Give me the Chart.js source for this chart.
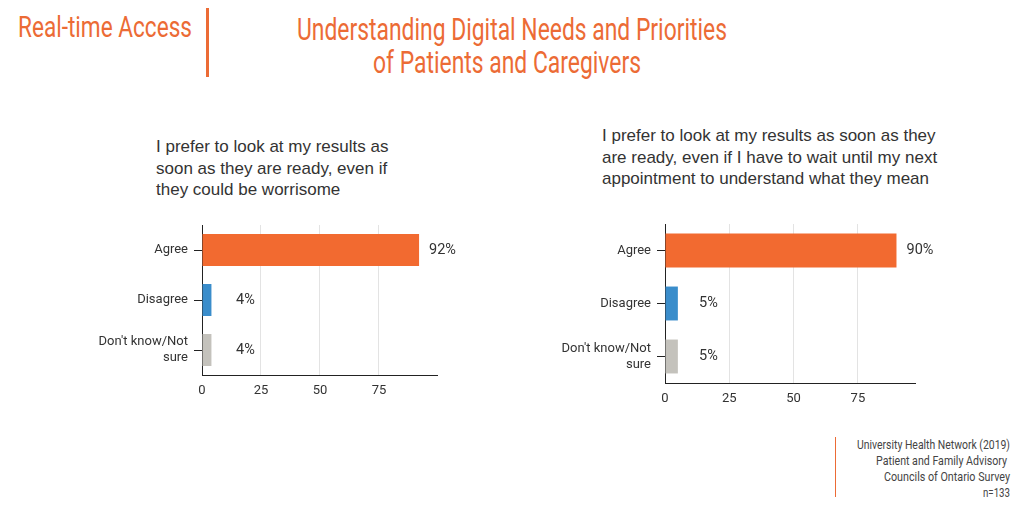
<!DOCTYPE html>
<html>
<head>
<meta charset="utf-8">
<script src="https://cdn.jsdelivr.net/npm/chart.js@4/dist/chart.umd.min.js"></script>
<style>
  body { margin: 0; width: 1024px; height: 512px; background: #fff; position: relative; overflow: hidden; }
  .cond { font-family: Roboto, sans-serif; white-space: nowrap; position: absolute; }
  .fit { display: inline-block; transform-origin: 0 0; }
  #section { left: 18px; top: 9px; font-size: 29px; line-height: 36px; color: #EC6B35; }
  #bar { position: absolute; left: 206px; top: 8px; width: 3px; height: 69px; background: #EC6B35; }
  #t1 { top: 11px; font-size: 31px; line-height: 38px; color: #EC6B35; }
  #t2 { top: 44px; font-size: 31px; line-height: 38px; color: #EC6B35; }
  .sub { position: absolute; font-family: 'Liberation Sans', Arial, sans-serif; font-size: 17px; line-height: 21.5px; color: #333; }
  #subL { left: 156px; top: 136px; }
  #subR { left: 602px; top: 125px; }
  #srcline { position: absolute; left: 835px; top: 437px; width: 1px; height: 60px; background: #EC6B35; }
  .src { font-size: 13px; line-height: 16px; color: #444; }
  canvas { position: absolute; }
</style>
</head>
<body>
<div id="section" class="cond"><span class="fit" data-w="174">Real-time Access</span></div>
<div id="bar"></div>
<div id="t1" class="cond" data-cx="512"><span class="fit" data-w="430">Understanding Digital Needs and Priorities</span></div>
<div id="t2" class="cond" data-cx="507"><span class="fit" data-w="268">of Patients and Caregivers</span></div>
<div id="subL" class="sub">I prefer to look at my results as<br>soon as they are ready, even if<br>they could be worrisome</div>
<div id="subR" class="sub">I prefer to look at my results as soon as they<br>are ready, even if I have to wait until my next<br>appointment to understand what they mean</div>
<div id="srcline"></div>
<div class="cond src" style="top:437px" data-rx="1010"><span class="fit" data-w="153">University Health Network (2019)</span></div>
<div class="cond src" style="top:453px" data-rx="1007"><span class="fit" data-w="131">Patient and Family Advisory</span></div>
<div class="cond src" style="top:469px" data-rx="1010"><span class="fit" data-w="126">Councils of Ontario Survey</span></div>
<div class="cond src" style="top:485px" data-rx="1010"><span class="fit" data-w="27">n=133</span></div>
<div style="position:absolute;left:90px;top:225px;width:380px;height:185px"><canvas id="left"></canvas></div>
<div style="position:absolute;left:550px;top:224px;width:400px;height:194px"><canvas id="right"></canvas></div>
<script>
// squeeze the header/footer text to the condensed widths of the original
document.querySelectorAll('.fit').forEach(span => {
  const natural = span.getBoundingClientRect().width;
  const target = +span.dataset.w;
  span.style.transform = 'scaleX(' + (target / natural) + ')';
  const box = span.parentElement;
  if (box.dataset.cx) box.style.left = (+box.dataset.cx - target / 2) + 'px';
  if (box.dataset.rx) box.style.left = (+box.dataset.rx - target) + 'px';
});

const categories = ['Agree', 'Disagree', ["Don't know/Not", 'sure']];
const leftValues = [92, 4, 4];
const rightValues = [90, 5, 5];
const xTicks = [0, 25, 50, 75];
const barColors = ['#F26A30', '#3A8DCB', '#C4C2BC'];

const valueLabels = {
  id: 'valueLabels',
  afterDatasetsDraw(chart) {
    const ctx = chart.ctx;
    const meta = chart.getDatasetMeta(0);
    const base = chart.scales.x.getPixelForValue(0);
    ctx.save();
    ctx.font = '14.5px Roboto, sans-serif';
    ctx.fillStyle = '#333';
    ctx.textBaseline = 'middle';
    meta.data.forEach((bar, i) => {
      const x = Math.max(bar.x + 10, base + 34);
      ctx.fillText(chart.data.datasets[0].data[i] + '%', x, bar.y);
    });
    ctx.restore();
  }
};

function makeChart(id, values, max, yWidth, padRight) {
  new Chart(document.getElementById(id), {
    type: 'bar',
    data: {
      labels: categories,
      datasets: [{
        data: values,
        backgroundColor: barColors,
        barPercentage: 0.8,
        categoryPercentage: 0.8
      }]
    },
    options: {
      indexAxis: 'y',
      responsive: true,
      maintainAspectRatio: false,
      animation: false,
      layout: { padding: { top: 0, right: padRight, left: 0, bottom: 0 } },
      plugins: { legend: { display: false }, tooltip: { enabled: false } },
      scales: {
        x: {
          min: 0,
          max: max,
          afterBuildTicks: (axis) => { axis.ticks = xTicks.map(v => ({ value: v })); },
          afterFit: (axis) => { axis.height = 35; axis.paddingLeft = 0; axis.paddingRight = 0; },
          border: { color: '#222', width: 1 },
          grid: { color: '#e3e3e3', drawTicks: false },
          ticks: { padding: 8, color: '#333', font: { family: 'Roboto', size: 13 } }
        },
        y: {
          afterFit: (axis) => { axis.width = yWidth; axis.paddingTop = 0; axis.paddingBottom = 0; },
          border: { color: '#222', width: 1 },
          grid: { drawOnChartArea: false, offset: false, color: '#222', tickLength: 8 },
          ticks: { padding: 6, color: '#333', font: { family: 'Roboto', size: 13 } }
        }
      }
    },
    plugins: [valueLabels]
  });
}

makeChart('left', leftValues, 99.6, 112, 33);
makeChart('right', rightValues, 97.2, 115, 35);
</script>
</body>
</html>
